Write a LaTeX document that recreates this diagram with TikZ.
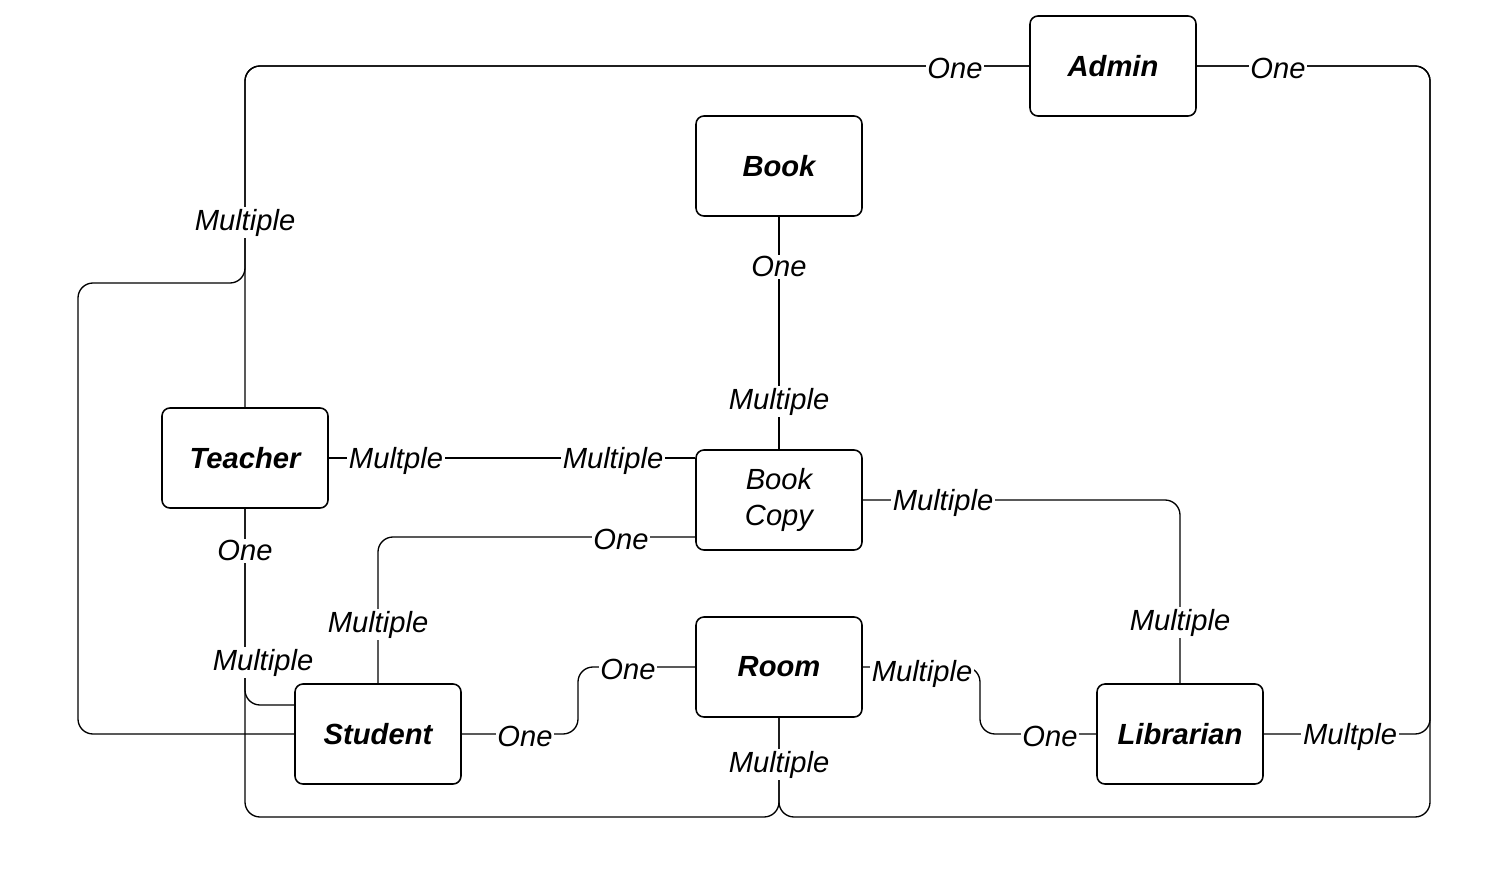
\documentclass[tikz,border=0pt]{standalone}
\usepackage{fontspec}
\setmainfont{Liberation Sans}
\begin{document}
\begin{tikzpicture}[x=0.02cm,y=-0.02cm,
    entity/.style={draw,rectangle,fill=white,rounded corners=4.5pt,line width=0.9pt,
                   minimum width=3.32cm,minimum height=2cm,align=center,
                   font=\fontsize{16.6}{20}\selectfont\bfseries\itshape},
    card/.style={fill=white,inner sep=1pt,yshift=-1.5pt,
                 font=\fontsize{16.6}{20}\selectfont\itshape},
    link/.style={line width=0.75pt,rounded corners=0.3cm}]

\useasboundingbox (0,0) rectangle (1512,876);

%entities
\node [entity] (admin)     at (1113,66)  {Admin};
\node [entity] (book)      at (779,166)  {Book};
\node [entity] (teacher)   at (245,458)  {Teacher};
\node [entity,font=\fontsize{16.6}{20}\selectfont\itshape] (copy) at (779,500) {Book\\Copy};
\node [entity] (room)      at (779,667)  {Room};
\node [entity] (student)   at (378,734)  {Student};
\node [entity] (librarian) at (1180,734) {Librarian};

%relations
\draw [link] (teacher.north) -- (245,66) -- (admin.west);
\draw [link] (student.west) -- (78,734) -- (78,283) -- (245,283) -- (245,66) -- (admin.west);
\draw [link] (librarian.east) -- (1430,734) -- (1430,66) -- (admin.east);
\draw [link] (room.south) -- (779,817) -- (1430,817) -- (1430,66) -- (admin.east);
\draw [link] (room.south) -- (779,817) -- (245,817) -- (teacher.south);
\draw [link] (teacher.south) -- (245,705) -- (295,705);
\draw [link] (book.south) -- (copy.north);
\draw [link] (teacher.east) -- (teacher.east -| copy.west);
\draw [link] (696,537) -- (378,537) -- (student.north);
\draw [link] (copy.east) -- (1180,500) -- (librarian.north);
\draw [link] (student.east) -- (578,734) -- (578,667) -- (room.west);
\draw [link] (room.east) -- (980,667) -- (980,734) -- (librarian.west);

%cardinalities
\node [card] (c1)  at (955,66)   {One};
\node [card] (c2)  at (1278,66)  {One};
\node [card] (c3)  at (245,220)  {Multiple};
\node [card] (c4)  at (779,264)  {One};
\node [card] (c5)  at (779,399)  {Multiple};
\node [card] (c6)  at (396,458)  {Multple};
\node [card] (c7)  at (613,458)  {Multiple};
\node [card] (c8)  at (943,500)  {Multiple};
\node [card] (c9)  at (621,537)  {One};
\node [card] (c10) at (245,548)  {One};
\node [card] (c11) at (378,622)  {Multiple};
\node [card] (c12) at (1180,620) {Multiple};
\node [card] (c13) at (263,660)  {Multiple};
\node [card] (c14) at (628,667)  {One};
\node [card] (c15) at (922,671)  {Multiple};
\node [card] (c16) at (525,734)  {One};
\node [card] (c17) at (1050,734) {One};
\node [card] (c18) at (1350,734) {Multple};
\node [card] (c19) at (779,762)  {Multiple};

\end{tikzpicture}
\end{document}
